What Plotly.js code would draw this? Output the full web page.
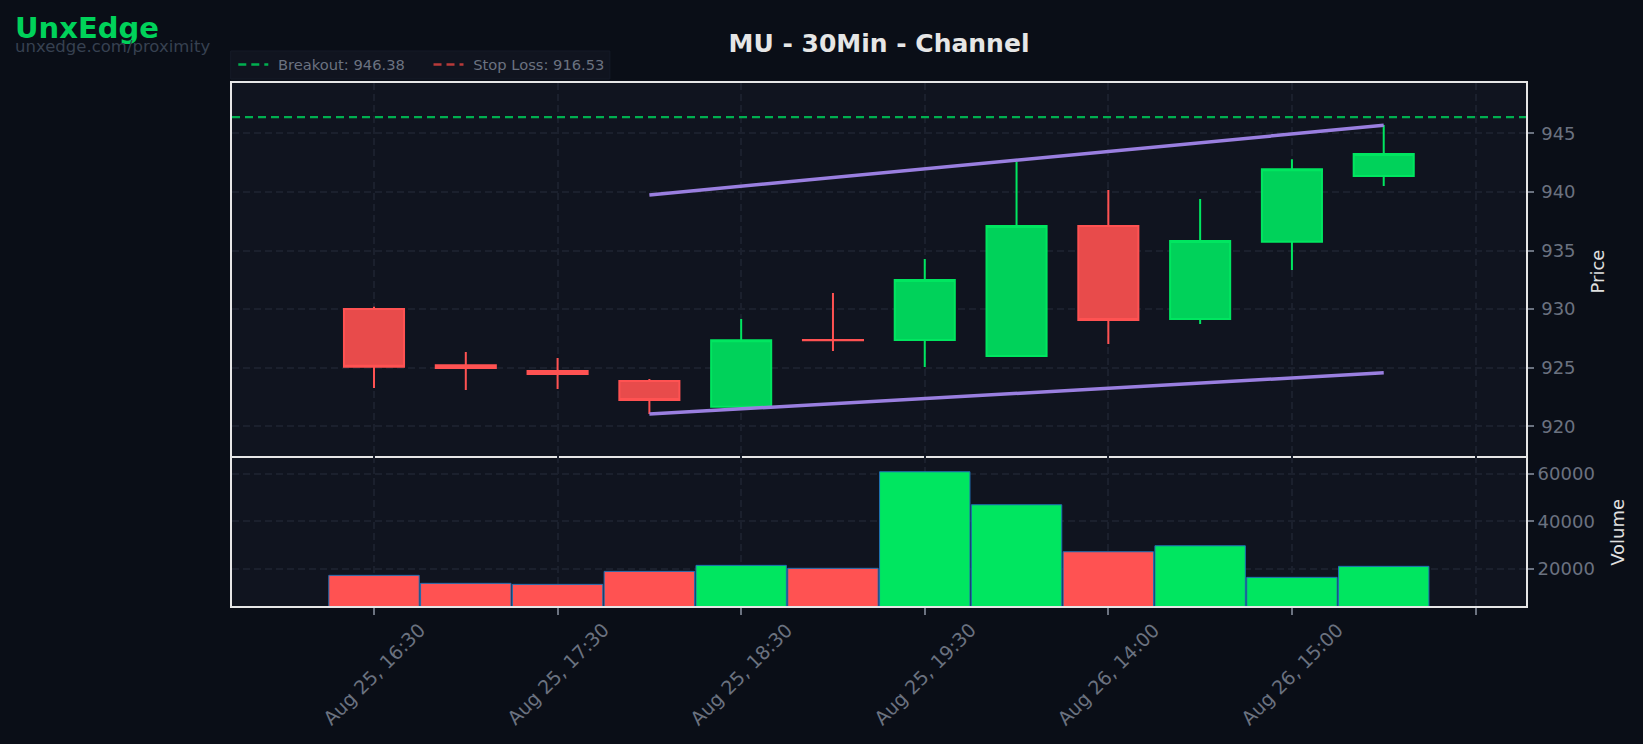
<!DOCTYPE html>
<html>
<head>
<meta charset="utf-8">
<script src="https://cdn.plot.ly/plotly-3.0.1.min.js"></script>
<style>
  html, body { margin: 0; padding: 0; background: #0a0e17; }
</style>
</head>
<body>
<div id="chart" style="width:1643px;height:744px"></div>
<script>
// candles, index on x so the overnight gap does not show
const idx = [0, 1, 2, 3, 4, 5, 6, 7, 8, 9, 10, 11];
const opens = [930.02, 925.22, 924.72, 923.86, 921.67, 927.36, 927.36, 926.0, 937.09, 929.16, 935.75, 941.36];
const highs = [930.2, 926.34, 925.83, 924.04, 929.16, 931.37, 934.27, 942.58, 940.16, 939.4, 942.78, 945.7];
const lows = [923.27, 923.1, 923.18, 921.05, 921.6, 926.43, 925.06, 926.0, 927.02, 928.73, 933.34, 940.5];
const closes = [925.08, 924.98, 924.46, 922.24, 927.34, 927.35, 932.48, 937.09, 929.07, 935.81, 941.93, 943.23];
const volumes = [17200, 13830, 13400, 18880, 21400, 20150, 60820, 46930, 27140, 29660, 16350, 20990];

// channel lines
const channelX = [3, 11];
const upperLine = [939.74, 945.68];
const lowerLine = [921.05, 924.57];

const breakout = 946.38;
const stopLoss = 916.53;

const tickVals = [0, 2, 4, 6, 8, 10, 12];
const tickText = ["Aug 25, 16:30", "Aug 25, 17:30", "Aug 25, 18:30", "Aug 25, 19:30", "Aug 26, 14:00", "Aug 26, 15:00", ""];

const xRange = [-1.547, 12.55];
const green = "#00e660";
const red = "#ff5252";
const purple = "#9a7fe0";
const gridColor = "#1b202d";
const frame = "#e6e6e6";
const tickGray = "#6b7280";
const gridDash = "7px,4px";
const nb = "\u00a0";

let volColors = idx.map(i => (closes[i] >= opens[i] ? green : red));

let candles = {
  type: "candlestick",
  x: idx, open: opens, high: highs, low: lows, close: closes,
  xaxis: "x", yaxis: "y",
  increasing: { line: { color: green, width: 2 }, fillcolor: "#00d25a" },
  decreasing: { line: { color: red, width: 2 }, fillcolor: "#e84b4b" },
  showlegend: false
};

let upper = {
  type: "scatter", mode: "lines", x: channelX, y: upperLine,
  line: { color: purple, width: 3.5 }, showlegend: false, xaxis: "x", yaxis: "y"
};
let lower = {
  type: "scatter", mode: "lines", x: channelX, y: lowerLine,
  line: { color: purple, width: 3.5 }, showlegend: false, xaxis: "x", yaxis: "y"
};

// nbsp padding gives the wider gaps of the legend row
let breakoutLine = {
  type: "scatter", mode: "lines", x: xRange, y: [breakout, breakout],
  name: nb + "Breakout: " + breakout + nb + nb + nb + nb,
  line: { color: "#00b050", width: 2.4, dash: "8px,5px" }, xaxis: "x", yaxis: "y"
};
let stopLine = {
  type: "scatter", mode: "lines", x: xRange, y: [stopLoss, stopLoss],
  name: nb + "Stop Loss: " + stopLoss,
  line: { color: "#b83a3a", width: 2.4, dash: "8px,5px" }, xaxis: "x", yaxis: "y"
};

let volume = {
  type: "bar", x: idx, y: volumes,
  marker: { color: volColors, line: { color: "#1f6fb4", width: 1 } },
  showlegend: false, xaxis: "x2", yaxis: "y2"
};

let baseX = {
  range: xRange,
  tickmode: "array", tickvals: tickVals,
  showgrid: true, gridcolor: gridColor, griddash: gridDash, gridwidth: 1.5,
  zeroline: false,
  showline: true, linecolor: frame, linewidth: 2,
  showticklabels: false
};

let baseY = {
  side: "right",
  tickfont: { size: 18, color: tickGray },
  ticks: "outside", ticklen: 6, tickwidth: 2, tickcolor: tickGray, tickprefix: "\u2009",
  showgrid: true, gridcolor: gridColor, griddash: gridDash, gridwidth: 1.5, zeroline: false,
  showline: true, linecolor: frame, linewidth: 2, mirror: true
};

// plotly end-anchors rotated tick labels, these sit centred under the tick
let dateLabels = tickVals.filter((v, i) => tickText[i] !== "").map((v, i) => ({
  text: tickText[i], xref: "x2", yref: "paper", x: v, y: 0, yanchor: "middle", yshift: -68,
  textangle: -45, showarrow: false, font: { size: 19, color: tickGray }
}));

// axis titles placed by hand
let axisTitles = [
  { text: "Price", x: 1.0549, y: 0.6396 },
  { text: "Volume", x: 1.071, y: 0.1415 }
].map(t => ({
  text: t.text, xref: "paper", yref: "paper", x: t.x, y: t.y, textangle: -90,
  xanchor: "center", yanchor: "middle", showarrow: false,
  font: { size: 18, color: "#e0e0e0" }
}));

let layout = {
  width: 1643, height: 744,
  paper_bgcolor: "#0a0e17", plot_bgcolor: "#10141f",
  font: { family: "DejaVu Sans", color: tickGray },
  margin: { l: 232, r: 117, t: 83, b: 138, pad: 0 },
  title: {
    text: "<b>MU - 30Min - Channel</b>",
    font: { size: 25, color: "#e6e6e6" },
    xref: "paper", x: 0.5, xanchor: "center",
    yref: "container", y: 0.942, yanchor: "middle"
  },
  legend: {
    orientation: "h", x: 0.001, xanchor: "left", y: 1.003, yanchor: "bottom", yref: "paper",
    bgcolor: "rgba(0,0,0,0)", borderwidth: 0,
    font: { size: 14.7, color: tickGray }
  },
  // legend box is lower than plotly's own, so it is a shape behind a clear legend
  shapes: [
    {
      type: "rect", xref: "paper", yref: "paper", layer: "above",
      x0: -0.001, x1: 0.292, y0: 1.0076, y1: 1.0612,
      fillcolor: "#10141f", line: { color: "#161b28", width: 1 }
    }
  ],
  bargap: 0.015,
  boxgap: 0.3,
  boxgroupgap: 0.065,
  xaxis: Object.assign({}, baseX, {
    anchor: "y", mirror: true, ticks: "", rangeslider: { visible: false }
  }),
  xaxis2: Object.assign({}, baseX, {
    anchor: "y2", matches: "x", ticks: "outside", ticklen: 7, tickwidth: 2, tickcolor: tickGray
  }),
  yaxis: Object.assign({}, baseY, {
    domain: [0.2868, 1], range: [917.47, 949.29], anchor: "x",
    dtick: 5, tick0: 920
  }),
  yaxis2: Object.assign({}, baseY, {
    domain: [0, 0.2868], range: [4295, 67453], anchor: "x2",
    tickvals: [20000, 40000, 60000], tickformat: "d"
  }),
  annotations: [
    {
      text: "<b>UnxEdge</b>", xref: "paper", yref: "paper",
      x: -0.169, y: 1.105, xanchor: "left", yanchor: "middle", showarrow: false,
      font: { size: 29, color: "#00d25a" }
    },
    {
      text: "unxedge.com/proximity", xref: "paper", yref: "paper",
      x: -0.169, y: 1.07, xanchor: "left", yanchor: "middle", showarrow: false,
      font: { size: 16.5, color: "#374151" }
    }
  ].concat(dateLabels, axisTitles)
};

Plotly.newPlot("chart", [volume, candles, upper, lower, breakoutLine, stopLine], layout, { displayModeBar: false });
</script>
</body>
</html>
